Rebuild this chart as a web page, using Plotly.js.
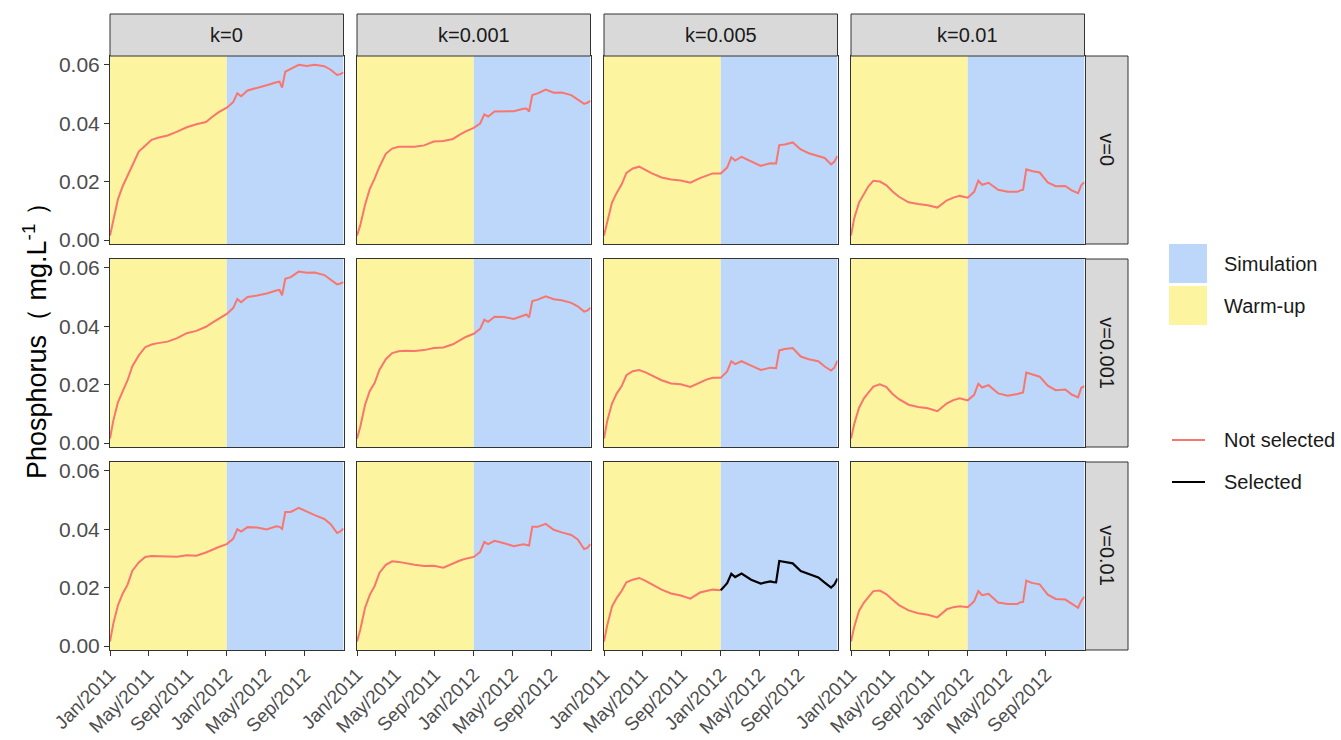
<!DOCTYPE html>
<html><head><meta charset="utf-8">
<script src="https://cdn.plot.ly/plotly-3.0.1.min.js"></script>
<style>html,body{margin:0;padding:0;background:#fff}#chart{width:1341px;height:740px}</style>
</head><body><div id="chart"></div>
<script>
// ---------------- DATA ----------------
const dates = ['2011-01-01','2011-01-11','2011-01-26','2011-02-10','2011-02-25','2011-03-12','2011-04-01','2011-04-21','2011-05-11','2011-05-31','2011-06-30','2011-07-30','2011-08-29','2011-09-28','2011-10-28','2011-11-17','2011-12-07','2012-01-01','2012-01-21','2012-02-03','2012-02-15','2012-03-06','2012-04-05','2012-05-05','2012-06-04','2012-06-14','2012-06-22','2012-07-02','2012-07-19','2012-08-13','2012-09-07','2012-10-02','2012-11-01','2012-11-21','2012-12-11','2012-12-21','2012-12-31'];

const kLabels = ['k=0','k=0.001','k=0.005','k=0.01'];
const vLabels = ['v=0','v=0.001','v=0.01'];
const selectedK = 'k=0.005';
const selectedV = 'v=0.01';

const periodNames = ['Warm-up','Simulation'];
const periodStart = ['2011-01-01','2012-01-01'];
const periodEnd   = ['2012-01-01','2012-12-31'];
const fillLegendOrder = ['Simulation','Warm-up'];
const lineLegendNames = ['Not selected','Selected'];

const xTickDates = ['2011-01-01','2011-05-01','2011-09-01','2012-01-01','2012-05-01','2012-09-01'];
const yTickVals = [0, 0.02, 0.04, 0.06];

// Phosphorus (mg/L), one array per facet (v row, k column)
const P_v0_k0      = [0.0015,0.0070,0.0140,0.0185,0.0220,0.0260,0.0303,0.0323,0.0343,0.0350,0.0358,0.0371,0.0386,0.0396,0.0404,0.0422,0.0438,0.0453,0.0472,0.0502,0.0492,0.0512,0.0520,0.0530,0.0540,0.0542,0.0522,0.0576,0.0586,0.0600,0.0596,0.0600,0.0595,0.0583,0.0565,0.0568,0.0574];
const P_v0_k0001   = [0.0015,0.0050,0.0120,0.0175,0.0210,0.0250,0.0295,0.0313,0.0319,0.0319,0.0319,0.0324,0.0337,0.0339,0.0346,0.0360,0.0372,0.0384,0.0399,0.0430,0.0423,0.0440,0.0441,0.0441,0.0449,0.0450,0.0440,0.0496,0.0502,0.0515,0.0504,0.0505,0.0496,0.0481,0.0466,0.0470,0.0476];
const P_v0_k0005   = [0.0015,0.0063,0.0128,0.0162,0.0190,0.0230,0.0245,0.0251,0.0239,0.0228,0.0214,0.0207,0.0204,0.0196,0.0212,0.0220,0.0228,0.0228,0.0248,0.0283,0.0272,0.0285,0.0269,0.0254,0.0263,0.0262,0.0262,0.0325,0.0327,0.0334,0.0310,0.0297,0.0286,0.0281,0.0259,0.0268,0.0288];
const P_v0_k001    = [0.0015,0.0074,0.0128,0.0158,0.0185,0.0203,0.0200,0.0188,0.0166,0.0148,0.0129,0.0123,0.0119,0.0111,0.0136,0.0145,0.0151,0.0145,0.0165,0.0203,0.0189,0.0196,0.0172,0.0165,0.0165,0.0170,0.0172,0.0242,0.0236,0.0231,0.0197,0.0184,0.0185,0.0170,0.0160,0.0188,0.0198];

const P_v0001_k0    = [0.0015,0.0075,0.0140,0.0180,0.0215,0.0263,0.0300,0.0328,0.0337,0.0342,0.0347,0.0359,0.0376,0.0384,0.0398,0.0412,0.0424,0.0442,0.0462,0.0493,0.0482,0.0500,0.0505,0.0512,0.0522,0.0524,0.0506,0.0562,0.0568,0.0587,0.0583,0.0584,0.0575,0.0560,0.0543,0.0546,0.0551];
const P_v0001_k0001 = [0.0015,0.0055,0.0130,0.0178,0.0205,0.0250,0.0287,0.0308,0.0314,0.0316,0.0315,0.0318,0.0325,0.0327,0.0338,0.0352,0.0363,0.0374,0.0391,0.0422,0.0415,0.0432,0.0431,0.0425,0.0438,0.0440,0.0430,0.0486,0.0491,0.0502,0.0492,0.0489,0.0480,0.0468,0.0450,0.0453,0.0463];
const P_v0001_k0005 = [0.0015,0.0075,0.0135,0.0170,0.0194,0.0232,0.0246,0.0250,0.0242,0.0231,0.0215,0.0204,0.0201,0.0192,0.0208,0.0217,0.0223,0.0223,0.0245,0.0280,0.0270,0.0280,0.0265,0.0250,0.0258,0.0257,0.0256,0.0317,0.0322,0.0325,0.0296,0.0287,0.0280,0.0262,0.0248,0.0258,0.0282];
const P_v0001_k001  = [0.0015,0.0065,0.0120,0.0152,0.0173,0.0193,0.0201,0.0192,0.0168,0.0150,0.0131,0.0123,0.0119,0.0109,0.0136,0.0147,0.0153,0.0146,0.0165,0.0203,0.0190,0.0198,0.0170,0.0162,0.0168,0.0172,0.0173,0.0241,0.0236,0.0227,0.0196,0.0181,0.0183,0.0166,0.0156,0.0189,0.0195];

const P_v001_k0    = [0.0015,0.0075,0.0140,0.0180,0.0210,0.0258,0.0286,0.0305,0.0308,0.0308,0.0307,0.0306,0.0311,0.0309,0.0320,0.0330,0.0339,0.0349,0.0367,0.0400,0.0392,0.0407,0.0406,0.0399,0.0410,0.0408,0.0401,0.0459,0.0459,0.0473,0.0460,0.0448,0.0435,0.0417,0.0387,0.0392,0.0402];
const P_v001_k0001 = [0.0015,0.0055,0.0130,0.0175,0.0205,0.0250,0.0278,0.0290,0.0288,0.0283,0.0278,0.0274,0.0275,0.0268,0.0284,0.0292,0.0299,0.0305,0.0322,0.0356,0.0349,0.0360,0.0352,0.0342,0.0348,0.0346,0.0344,0.0408,0.0408,0.0418,0.0398,0.0389,0.0380,0.0365,0.0332,0.0336,0.0349];
const P_v001_k0005 = [0.0015,0.0070,0.0135,0.0165,0.0188,0.0218,0.0227,0.0233,0.0223,0.0211,0.0193,0.0180,0.0173,0.0162,0.0183,0.0188,0.0193,0.0191,0.0215,0.0247,0.0236,0.0248,0.0227,0.0214,0.0221,0.0219,0.0218,0.0291,0.0288,0.0283,0.0257,0.0246,0.0235,0.0217,0.0200,0.0210,0.0231];
const P_v001_k001  = [0.0015,0.0065,0.0120,0.0148,0.0168,0.0188,0.0190,0.0178,0.0158,0.0140,0.0122,0.0112,0.0107,0.0098,0.0126,0.0133,0.0136,0.0133,0.0153,0.0188,0.0174,0.0179,0.0149,0.0144,0.0144,0.0150,0.0151,0.0224,0.0216,0.0211,0.0176,0.0161,0.0159,0.0144,0.0131,0.0155,0.0169];

const facetSeries = [
  [P_v0_k0, P_v0_k0001, P_v0_k0005, P_v0_k001],
  [P_v0001_k0, P_v0001_k0001, P_v0001_k0005, P_v0001_k001],
  [P_v001_k0, P_v001_k0001, P_v001_k0005, P_v001_k001]
];

// ---------------- STYLE / LAYOUT ----------------
const W = 1341, H = 740;
const FONT = 'Liberation Sans, Arial, Helvetica, sans-serif';
const periodColor = {'Warm-up': '#FCF49F', 'Simulation': '#BDD7FB'};
const lineColor = {'Not selected': '#F8766D', 'Selected': '#000000'};
const colLeft = [110, 357, 604, 851];
const panelW = 233.5;
const rowTop = [56, 259, 462];
const panelH = 188;
const stripTop = 14;
const stripRightX0 = 1085.5, stripRightX1 = 1128;
const yRange = [-0.00137, 0.063];

const px = x => x / W;
const py = y => 1 - y / H;

const data = [];
const layout = {
  width: W, height: H,
  margin: {l: 0, r: 0, t: 0, b: 0},
  paper_bgcolor: '#ffffff', plot_bgcolor: '#ffffff',
  showlegend: false,
  font: {family: FONT, color: '#1A1A1A'},
  shapes: [], annotations: []
};

for (let r = 0; r < vLabels.length; r++) {
  for (let c = 0; c < kLabels.length; c++) {
    const i = r * kLabels.length + c + 1;
    const sfx = i === 1 ? '' : String(i);
    const xa = 'x' + sfx, ya = 'y' + sfx;
    layout['xaxis' + sfx] = {
      domain: [px(colLeft[c]), px(colLeft[c] + panelW)],
      anchor: ya, type: 'date',
      range: [periodStart[0], periodEnd[1]],
      showgrid: false, zeroline: false,
      showline: true, mirror: true, linecolor: '#333333', linewidth: 1,
      ticks: r === vLabels.length - 1 ? 'outside' : '',
      ticklen: 5, tickcolor: '#333333', tickwidth: 1,
      showticklabels: r === vLabels.length - 1,
      tickmode: 'array', tickvals: xTickDates,
      tickformat: '%b/%Y', tickangle: -45,
      tickfont: {family: FONT, size: 19, color: '#4D4D4D'}
    };
    layout['yaxis' + sfx] = {
      domain: [py(rowTop[r] + panelH), py(rowTop[r])],
      anchor: xa, range: yRange,
      showgrid: false, zeroline: false,
      showline: true, mirror: true, linecolor: '#333333', linewidth: 1,
      ticks: c === 0 ? 'outside' : '',
      ticklen: 5, tickcolor: '#333333', tickwidth: 1,
      showticklabels: c === 0,
      tickmode: 'array', tickvals: yTickVals, tickformat: '.2f',
      tickfont: {family: FONT, size: 21, color: '#4D4D4D'}
    };
    // period backgrounds
    for (let p = 0; p < periodNames.length; p++) {
      layout.shapes.push({
        type: 'rect', layer: 'below', xref: xa, yref: ya + ' domain',
        x0: periodStart[p], x1: periodEnd[p], y0: 0, y1: 1,
        fillcolor: periodColor[periodNames[p]], line: {width: 0}
      });
    }
    // lines
    const vals = facetSeries[r][c];
    const isSel = kLabels[c] === selectedK && vLabels[r] === selectedV;
    if (!isSel) {
      data.push({x: dates, y: vals, xaxis: xa, yaxis: ya, type: 'scatter', mode: 'lines',
        line: {color: lineColor['Not selected'], width: 2}, hoverinfo: 'skip'});
    } else {
      const xs1 = [], ys1 = [], xs2 = [], ys2 = [];
      dates.forEach((d, j) => {
        if (d <= periodStart[1]) { xs1.push(d); ys1.push(vals[j]); }
        if (d >= periodStart[1]) { xs2.push(d); ys2.push(vals[j]); }
      });
      data.push({x: xs1, y: ys1, xaxis: xa, yaxis: ya, type: 'scatter', mode: 'lines',
        line: {color: lineColor['Not selected'], width: 2}, hoverinfo: 'skip'});
      data.push({x: xs2, y: ys2, xaxis: xa, yaxis: ya, type: 'scatter', mode: 'lines',
        line: {color: lineColor['Selected'], width: 2.2}, hoverinfo: 'skip'});
    }
  }
}

// top strips
kLabels.forEach((lab, c) => {
  layout.shapes.push({type: 'rect', xref: 'paper', yref: 'paper',
    x0: px(colLeft[c]), x1: px(colLeft[c] + panelW), y0: py(rowTop[0]), y1: py(stripTop),
    fillcolor: '#D9D9D9', line: {color: '#333333', width: 1}});
  layout.annotations.push({xref: 'paper', yref: 'paper', x: px(colLeft[c] + panelW / 2),
    y: py((stripTop + rowTop[0]) / 2), text: lab, showarrow: false,
    xanchor: 'center', yanchor: 'middle', font: {family: FONT, size: 20, color: '#1A1A1A'}});
});
// right strips
vLabels.forEach((lab, r) => {
  layout.shapes.push({type: 'rect', xref: 'paper', yref: 'paper',
    x0: px(stripRightX0), x1: px(stripRightX1), y0: py(rowTop[r] + panelH), y1: py(rowTop[r]),
    fillcolor: '#D9D9D9', line: {color: '#333333', width: 1}});
  layout.annotations.push({xref: 'paper', yref: 'paper', x: px((stripRightX0 + stripRightX1) / 2),
    y: py(rowTop[r] + panelH / 2), text: lab, showarrow: false, textangle: 90,
    xanchor: 'center', yanchor: 'middle', font: {family: FONT, size: 20, color: '#1A1A1A'}});
});

// y title
layout.annotations.push({xref: 'paper', yref: 'paper', x: px(35), y: py(334),
  text: 'Phosphorus\uFF08 mg.L<sup>-1</sup> \uFF09', showarrow: false, textangle: -90,
  xanchor: 'center', yanchor: 'middle', font: {family: FONT, size: 27, color: '#000000'}});

// fill legend
fillLegendOrder.forEach((name, j) => {
  const y0 = 244 + j * 42;
  layout.shapes.push({type: 'rect', xref: 'paper', yref: 'paper',
    x0: px(1169), x1: px(1207), y0: py(y0 + 39), y1: py(y0),
    fillcolor: periodColor[name], line: {width: 0}});
  layout.annotations.push({xref: 'paper', yref: 'paper', x: px(1222), y: py(y0 + 20),
    text: name, showarrow: false, xanchor: 'left', yanchor: 'middle',
    font: {family: FONT, size: 20, color: '#1A1A1A'}});
});
// line legend
lineLegendNames.forEach((name, j) => {
  const yc = 440 + j * 42;
  layout.shapes.push({type: 'line', xref: 'paper', yref: 'paper',
    x0: px(1172), x1: px(1205), y0: py(yc), y1: py(yc),
    line: {color: lineColor[name], width: 2}});
  layout.annotations.push({xref: 'paper', yref: 'paper', x: px(1222), y: py(yc),
    text: name, showarrow: false, xanchor: 'left', yanchor: 'middle',
    font: {family: FONT, size: 20, color: '#1A1A1A'}});
});

Plotly.newPlot('chart', data, layout, {displayModeBar: false, staticPlot: true});
</script>
</body></html>
